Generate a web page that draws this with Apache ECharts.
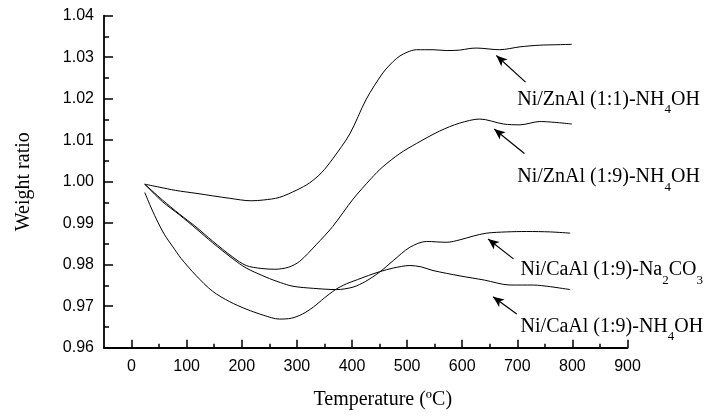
<!DOCTYPE html>
<html><head><meta charset="utf-8">
<script src="https://cdn.jsdelivr.net/npm/echarts@6/dist/echarts.min.js"></script>
<style>html,body{margin:0;padding:0;background:#fff}#c{width:716px;height:418px}</style>
</head><body><div id="c"></div>
<script>
// Ni/ZnAl (1:1)-NH4OH
const tempA  = [24, 50, 80, 117, 178, 217, 240, 268, 300, 323, 345, 365, 396, 426, 456, 475, 487, 500, 517, 547, 572, 595, 614, 626, 668, 705, 741, 770, 799];
const ratioA = [0.9994, 0.9987, 0.9979, 0.9972, 0.9960, 0.9954, 0.9956, 0.9962, 0.9980, 0.9997, 1.0022, 1.0055, 1.0115, 1.0199, 1.0262, 1.0290, 1.0303, 1.0312, 1.0318, 1.0318, 1.0316, 1.0317, 1.0321, 1.0322, 1.0318, 1.0325, 1.0329, 1.0330, 1.0331];
// Ni/ZnAl (1:9)-NH4OH
const tempB  = [24, 56, 87, 117, 147, 184, 208, 235, 260, 285, 305, 335, 365, 402, 435, 456, 487, 517, 559, 595, 632, 675, 705, 741, 799];
const ratioB = [0.9994, 0.9956, 0.9922, 0.9891, 0.9857, 0.9818, 0.9798, 0.9791, 0.9789, 0.9794, 0.9808, 0.9848, 0.9892, 0.9958, 1.0008, 1.0036, 1.0068, 1.0092, 1.0122, 1.0141, 1.0151, 1.0139, 1.0137, 1.0145, 1.0139];
// Ni/CaAl (1:9)-Na2CO3
const tempC  = [24, 56, 87, 117, 147, 184, 208, 244, 270, 293, 330, 372, 402, 425, 450, 475, 505, 535, 572, 596, 620, 644, 680, 717, 760, 796];
const ratioC = [0.9994, 0.9952, 0.9920, 0.9887, 0.9853, 0.9814, 0.9792, 0.9770, 0.9757, 0.9748, 0.9743, 0.9740, 0.9746, 0.9760, 0.9782, 0.9810, 0.9842, 0.9856, 0.9854, 0.9860, 0.9869, 0.9876, 0.9879, 0.9880, 0.9879, 0.9876];
// Ni/CaAl (1:9)-NH4OH
const tempD  = [24, 33, 45, 60, 75, 90, 117, 147, 178, 208, 240, 268, 290, 310, 330, 350, 370, 390, 410, 430, 450, 475, 505, 525, 547, 596, 640, 687, 729, 760, 796];
const ratioD = [0.9974, 0.9945, 0.9910, 0.9872, 0.9843, 0.9815, 0.9774, 0.9736, 0.9711, 0.9693, 0.9678, 0.9669, 0.9671, 0.9681, 0.9698, 0.9720, 0.9740, 0.9754, 0.9764, 0.9774, 0.9783, 0.9792, 0.9798, 0.9795, 0.9786, 0.9773, 0.9763, 0.9751, 0.9751, 0.9747, 0.9740];

const xMajorTicks = [0, 100, 200, 300, 400, 500, 600, 700, 800, 900];
const xMinorTicks = [50, 150, 250, 350, 450, 550, 650, 750, 850];
const xRange = [-50, 900];
const yRange = [0.96, 1.04];
const yStep = 0.01;

// annotations: label text, label anchor (data coords), arrow start, arrow tip
const annoText = [
  '{m|Ni/ZnAl (1:1)-NH}{s|4}{m|OH}',
  '{m|Ni/ZnAl (1:9)-NH}{s|4}{m|OH}',
  '{m|Ni/CaAl (1:9)-Na}{s|2}{m|CO}{s|3}',
  '{m|Ni/CaAl (1:9)-NH}{s|4}{m|OH}'
];
const annoAnchor = [[700, 1.0197], [700, 1.0011], [706, 0.9787], [706, 0.9650]];
const arrowFrom = [[715, 1.0240], [713, 1.0068], [693, 0.9814], [699, 0.9681]];
const arrowTo   = [[662, 1.0304], [658, 1.0127], [647, 0.9862], [656, 0.9723]];

const pairs = (xs, ys) => xs.map((x, i) => [x, ys[i]]);
const serif = 'Liberation Serif, Times New Roman, serif';
const sans = 'Liberation Sans, Arial, sans-serif';

const mkSeries = (name, xs, ys) => ({
  name, type: 'line', data: pairs(xs, ys), smooth: 0.3, symbol: 'none',
  xAxisIndex: 0, yAxisIndex: 0,
  lineStyle: {color: '#000', width: 1}, silent: true
});

const series = [
  mkSeries('Ni/ZnAl (1:1)-NH4OH', tempA, ratioA),
  mkSeries('Ni/ZnAl (1:9)-NH4OH', tempB, ratioB),
  mkSeries('Ni/CaAl (1:9)-Na2CO3', tempC, ratioC),
  mkSeries('Ni/CaAl (1:9)-NH4OH', tempD, ratioD)
];
series[0].markLine = {
  silent: true, symbol: ['none', 'arrow'], symbolSize: [7, 11],
  label: {show: false},
  lineStyle: {color: '#000', width: 1.2, type: 'solid'},
  data: arrowFrom.map((f, i) => [{coord: f}, {coord: arrowTo[i]}])
};

const chart = echarts.init(document.getElementById('c'), null, {renderer: 'canvas'});
chart.setOption({
  animation: false,
  backgroundColor: '#fff',
  grid: {left: 104, right: 88.5, top: 15.7, bottom: 70.3},
  xAxis: [{
    type: 'value', min: xRange[0], max: xRange[1],
    name: 'Temperature (ºC)', nameLocation: 'middle', nameGap: 42,
    nameTextStyle: {fontFamily: serif, fontSize: 20, color: '#000', padding: [0, 0, 0, 34]},
    axisLine: {show: true, onZero: false, lineStyle: {color: '#000', width: 1.8}},
    axisTick: {show: true, inside: true, length: 8, customValues: xMajorTicks, lineStyle: {color: '#000', width: 1.5}},
    axisLabel: {customValues: xMajorTicks, fontFamily: sans, fontSize: 16, color: '#000', margin: 11},
    splitLine: {show: false}
  }, {
    type: 'value', min: xRange[0], max: xRange[1], position: 'bottom',
    axisLine: {show: false},
    axisTick: {show: true, inside: true, length: 4, customValues: xMinorTicks, lineStyle: {color: '#000', width: 1.5}},
    axisLabel: {show: false},
    splitLine: {show: false}
  }],
  yAxis: [{
    type: 'value', min: yRange[0], max: yRange[1], interval: yStep,
    name: 'Weight ratio', nameLocation: 'middle', nameGap: 70,
    nameTextStyle: {fontFamily: serif, fontSize: 20, color: '#000'},
    axisLine: {show: true, onZero: false, lineStyle: {color: '#000', width: 1.8}},
    axisTick: {show: true, inside: true, length: 9, lineStyle: {color: '#000', width: 1.5}},
    minorTick: {show: true, splitNumber: 2, length: 5, lineStyle: {color: '#000', width: 1.5}},
    axisLabel: {formatter: v => v.toFixed(2), fontFamily: sans, fontSize: 16, color: '#000', margin: 10},
    splitLine: {show: false}
  }],
  series
});

const rich = {
  m: {fill: '#000', fontFamily: serif, fontSize: 20, lineHeight: 24},
  s: {fill: '#000', fontFamily: serif, fontSize: 13, lineHeight: 14, padding: [20, 0, 0, 0]}
};
const graphics = annoText.map((t, i) => {
  const p = chart.convertToPixel({xAxisIndex: 0, yAxisIndex: 0}, annoAnchor[i]);
  return {
    type: 'text', x: p[0], y: p[1], silent: true,
    style: {text: t, rich, align: 'left', verticalAlign: 'middle', fill: '#000'}
  };
});
chart.setOption({graphic: graphics});
</script></body></html>
